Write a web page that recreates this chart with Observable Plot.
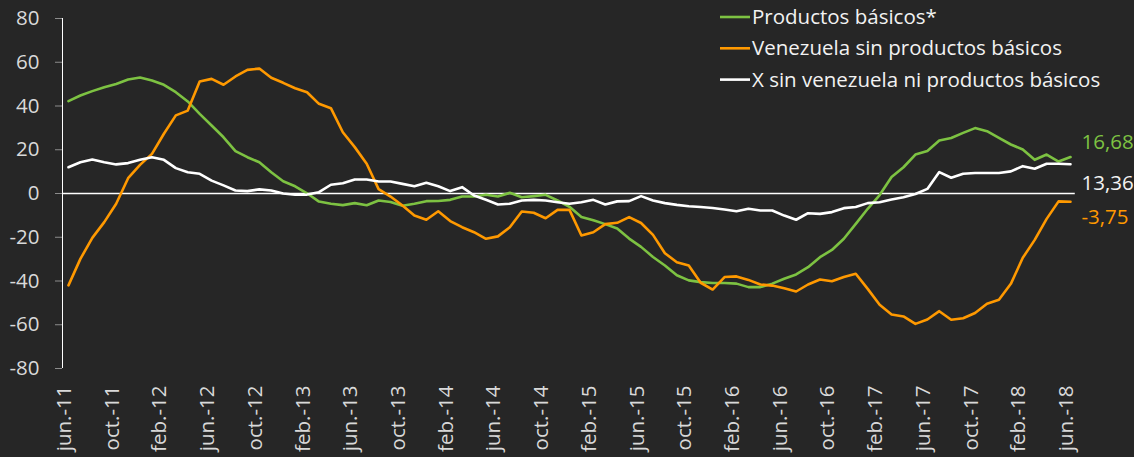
<!DOCTYPE html>
<html>
<head>
<meta charset="utf-8">
<script src="https://cdn.jsdelivr.net/npm/d3@7"></script>
<script src="https://cdn.jsdelivr.net/npm/@observablehq/plot@0.6"></script>
<style>
  html, body { margin: 0; padding: 0; background: #262626; }
  #chart { width: 1134px; height: 457px; }
</style>
</head>
<body>
<div id="chart"></div>
<script>
// Monthly series jun-2011 .. jun-2018 (85 months)
const seriesNames = ["Productos básicos*", "Venezuela sin productos básicos", "X sin venezuela ni productos básicos"];
const seriesColors = ["#7dc242", "#ff9900", "#ffffff"];

const productosBasicos = [
  42.2, 44.8, 46.8, 48.6, 50.1, 52.1, 53.0, 51.7, 49.7, 46.3, 42.1, 36.4, 31.1, 25.7, 19.4, 16.6, 14.3,
  9.7, 5.6, 3.3, 0.1, -3.7, -4.7, -5.3, -4.4, -5.4, -3.2, -3.9, -5.6, -4.7, -3.5, -3.4, -2.9,
  -1.4, -1.4, -0.6, -1.4, 0.3, -1.7, -1.2, -0.6, -3.2, -6.1, -10.7, -12.2, -14.0, -16.0, -20.6, -24.4,
  -29.0, -32.9, -37.4, -39.7, -40.5, -40.9, -40.9, -41.2, -42.8, -42.8, -41.2, -39.0, -37.0, -33.7, -29.1, -25.8,
  -20.7, -13.9, -7.0, -0.7, 7.5, 12.0, 17.8, 19.4, 24.2, 25.4, 27.7, 29.9, 28.5, 25.4, 22.4, 20.1,
  15.4, 17.8, 14.6, 16.68
];
const venezuelaSinPB = [
  -42.0, -29.9, -20.3, -13.1, -4.7, 7.0, 13.1, 18.1, 27.3, 35.7, 37.9, 51.2, 52.4, 49.7, 53.5, 56.5, 57.1,
  52.9, 50.6, 48.1, 46.3, 41.0, 39.0, 28.0, 21.2, 13.6, 2.0, -1.4, -5.5, -10.1, -12.0, -8.1, -12.6,
  -15.4, -17.7, -20.7, -19.6, -15.4, -8.2, -8.8, -11.3, -7.5, -7.5, -19.2, -17.7, -14.0, -13.4, -10.8, -13.5,
  -18.9, -27.3, -31.4, -32.9, -40.8, -43.9, -38.2, -37.9, -39.5, -41.6, -42.1, -43.3, -44.8, -41.6, -39.3, -40.1,
  -38.2, -36.7, -43.6, -50.9, -55.3, -56.2, -59.6, -57.6, -53.8, -57.7, -57.0, -54.6, -50.4, -48.6, -41.3, -29.4,
  -21.2, -11.6, -3.6, -3.75
];
const xSinVenezuela = [
  12.0, 14.3, 15.5, 14.3, 13.3, 13.9, 15.4, 16.6, 15.4, 11.6, 9.7, 9.0, 5.9, 3.7, 1.4, 1.1, 1.9,
  1.4, 0.0, -0.6, -0.5, 0.6, 4.0, 4.7, 6.4, 6.4, 5.5, 5.5, 4.4, 3.3, 4.9, 3.3, 1.1,
  2.9, -0.9, -2.9, -5.0, -4.7, -3.2, -2.9, -3.2, -4.0, -4.7, -4.0, -2.9, -5.0, -3.6, -3.5, -1.2,
  -3.2, -4.4, -5.2, -5.8, -6.2, -6.6, -7.3, -8.1, -7.0, -7.8, -7.8, -10.1, -12.0, -9.0, -9.3, -8.5,
  -6.7, -6.2, -4.4, -4.0, -2.7, -1.7, -0.2, 2.1, 9.8, 7.2, 9.0, 9.4, 9.4, 9.4, 10.1, 12.5,
  11.3, 13.6, 13.6, 13.36
];
const tickLabels = [
  "jun.-11", "oct.-11", "feb.-12", "jun.-12", "oct.-12", "feb.-13", "jun.-13", "oct.-13",
  "feb.-14", "jun.-14", "oct.-14", "feb.-15", "jun.-15", "oct.-15", "feb.-16", "jun.-16",
  "oct.-16", "feb.-17", "jun.-17", "oct.-17", "feb.-18", "jun.-18"
];
const yTicks = [-80, -60, -40, -20, 0, 20, 40, 60, 80];
const endLabelOffsets = [-15, 16, 19]; // green, orange, white (layout only)

const allSeries = [productosBasicos, venezuelaSinPB, xSinVenezuela];
const tickStep = 4;
const tickIdx = tickLabels.map((_, k) => k * tickStep);
const lastIdx = productosBasicos.length - 1;

const fmt = v => v.toFixed(2).replace(".", ",");
const endRows = allSeries.map((s, k) => ({ i: lastIdx, v: s[lastIdx], k }));

const FONT = "'Open Sans', sans-serif";
const FS = 20.5;

const plot = Plot.plot({
  width: 1134,
  height: 457,
  marginLeft: 62,
  marginRight: 64,
  marginTop: 18,
  marginBottom: 89,
  style: { background: "#262626", fontFamily: FONT, fontSize: FS + "px", color: "#d9d9d9", overflow: "visible" },
  x: { domain: [-0.5, lastIdx] },
  y: { domain: [-80, 80] },
  marks: [
    Plot.axisY({
      ticks: yTicks, tickFormat: d => String(d), tickSize: 7, tickPadding: 16,
      stroke: "#8c8c8c", fill: "#d9d9d9", fontSize: FS, label: null
    }),
    Plot.axisX({
      ticks: tickIdx, tickFormat: i => tickLabels[i / tickStep], tickRotate: -90,
      tickSize: 0, tickPadding: 17, dx: -4, fill: "#d9d9d9", fontSize: FS, label: null
    }),
    Plot.ruleX([-0.5], { y1: -80, y2: 80, stroke: "#ffffff", strokeWidth: 1 }),
    Plot.ruleY([0], { x1: -0.5, x2: lastIdx + 0.4, stroke: "#ffffff", strokeWidth: 1.5 }),
    ...allSeries.map((s, k) =>
      Plot.line(s, { x: (d, i) => i, y: d => d, stroke: seriesColors[k], strokeWidth: 2.6, strokeLinejoin: "round" })
    ),
    ...endRows.map(r =>
      Plot.text([r], {
        x: "i", y: "v", text: d => fmt(d.v), dx: 11, dy: endLabelOffsets[r.k],
        textAnchor: "start", fill: seriesColors[r.k] === "#ffffff" ? "#f2f2f2" : seriesColors[r.k],
        fontSize: FS, fontFamily: FONT
      })
    )
  ]
});

document.getElementById("chart").appendChild(plot);

// Legend (top-right, overlapping the plot area like the original)
const svg = d3.select(plot.tagName.toLowerCase() === "svg" ? plot : plot.querySelector("svg"));
const leg = svg.append("g").attr("transform", "translate(720,17)");
seriesNames.forEach((name, k) => {
  const g = leg.append("g").attr("transform", `translate(0,${k * 31.3})`);
  g.append("line").attr("x1", 0).attr("x2", 30).attr("y1", 0).attr("y2", 0)
    .attr("stroke", seriesColors[k]).attr("stroke-width", 2.6);
  g.append("text").attr("x", 32).attr("y", 0).attr("dy", "0.35em")
    .attr("text-anchor", "start")
    .attr("fill", "#f2f2f2").attr("font-family", FONT).attr("font-size", FS)
    .text(name);
});
</script>
</body>
</html>
